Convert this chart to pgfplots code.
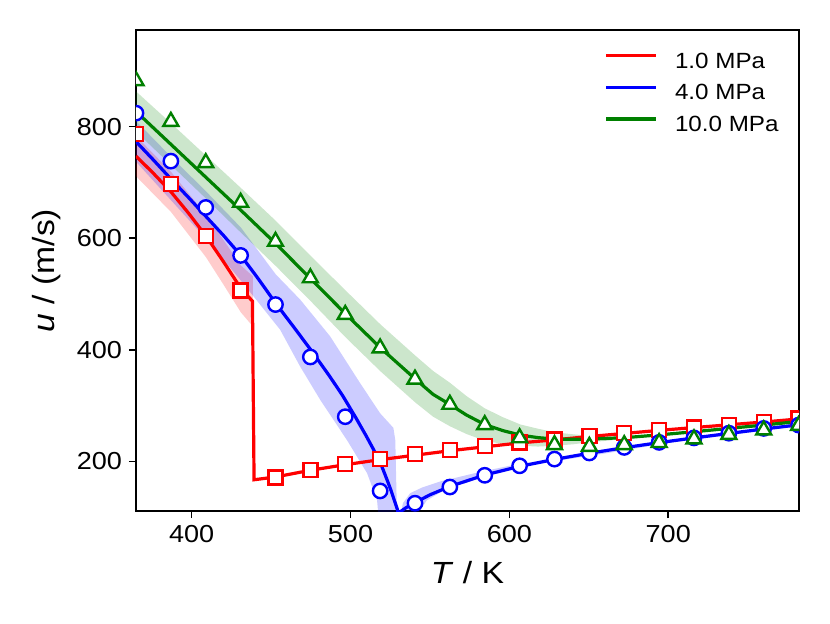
\documentclass[border=0pt]{standalone}
\usepackage{fontspec}
\setmainfont{Liberation Sans}[FakeStretch=1.1]
\usepackage{pgfplots}
\pgfplotsset{compat=1.18}
\definecolor{cR}{rgb}{1,0,0}
\definecolor{cB}{rgb}{0,0,1}
\definecolor{cG}{rgb}{0,0.5,0}
\begin{document}
\begin{tikzpicture}
\begin{axis}[
  name=ax,
  scale only axis, width=331.5pt, height=240.5pt,
  xmin=365, xmax=782.3, ymin=111, ymax=973,
  xtick={400,500,600,700}, ytick={200,400,600,800},
  tick align=outside, major tick length=3.5pt,
  xtick pos=lower, ytick pos=left,
  tick style={black, line width=0.8pt},
  axis line style={line width=0.8pt},
  minor tick num=0,
  /pgf/number format/assume math mode=true,
  tick label style={font=\fontsize{12.3}{14}\selectfont},
  xlabel={\textit{T} / K}, ylabel={\textit{u} / (m/s)},
  label style={font=\fontsize{15.3}{18}\selectfont},
  xlabel style={at={(axis description cs:0.5,-0.1497)}, anchor=base},
  ylabel style={at={(axis description cs:-0.1222,0.5)}, anchor=base},
  clip marker paths=true,
  legend style={at={(axis description cs:1,1)}, anchor=north east, xshift=-10pt, yshift=-11.5pt,
    draw=none, fill=none, inner sep=0pt, font=\fontsize{11}{13}\selectfont,
    row sep=6.3pt, nodes={inner sep=0pt, text height=0.75em, text depth=0.2em},
    /tikz/every odd column/.append style={column sep=8.5pt}},
  legend image code/.code={\draw[#1, line width=1.6pt] (0pt,0.35em) -- (25pt,0.35em);},
  legend cell align=left,
]
% ---- uncertainty bands ----
\addplot[draw=none, fill=cR, fill opacity=0.2, forget plot] coordinates {
 (365,783) (387,719) (409,642) (420,597) (431,551) (438.5,532)
 (438.5,442) (431,467) (420,517) (409,566) (387,647) (365,711)};
\addplot[draw=none, fill=cB, fill opacity=0.2, forget plot] coordinates {
 (365,810) (387,746) (409,684) (431,619) (453,535) (468.3,490) (487.2,424) (506.1,340)
 (518.7,286) (527,260) (528.2,238) (529.3,100)
 (517.7,100) (516.7,131) (510.4,179) (497.8,238) (481,310) (468.3,370) (455.7,436)
 (431,524) (409,599) (387,668) (365,737)};
\addplot[draw=none, fill=cB, fill opacity=0.2, forget plot] coordinates {
 (531.3,100) (533,125) (537.6,143) (545,153) (556.6,164) (580,180) (600,192) (630,206)
 (660,219) (700,238) (782.3,268)
 (782.3,263) (700,233) (660,214) (630,201) (600,186) (580,172) (560,150) (548,130) (541,100)};
\addplot[draw=none, fill=cG, fill opacity=0.2, forget plot] coordinates {
 (365,863) (387,806) (409,748) (431,690) (453,631) (475,568) (497,506) (519,445)
 (541,389) (552,362) (562.5,341) (573,317) (584.5,295) (596,279) (607,266) (618,258.5)
 (628.6,252) (640,248.5) (651,245.5) (662,244) (673,244) (684,246) (694.5,248)
 (694.5,247) (684,244) (673,241) (662,237) (651,234.5) (640,230.5) (628.6,228) (618,226.5)
 (607,228) (596,231) (584.5,237) (573,249) (562.5,263) (552,280) (541,305) (519,361)
 (497,422) (475,487) (453,550) (431,610) (409,671) (387,731) (365,791)};
% ---- model lines ----
\addplot[cR, line width=1.6pt] coordinates {
 (365,747) (376,716) (387,683) (398,645) (409,604) (420,558) (431,510) (438.3,487)
 (439.3,167) (452.8,172) (474.75,184) (496.7,194) (518.65,203) (540.6,211) (562.55,219)
 (584.5,226) (606.45,233) (628.4,238.5) (650.35,244.5) (672.3,250) (694.25,255.5)
 (716.2,260.5) (738.15,265.5) (760.1,270.5) (782.3,276)};
\addlegendentry{1.0 MPa}
\addplot[cB, line width=1.6pt] coordinates {
 (365,773) (376,740) (387,706) (398,673) (409,639) (420,605) (431,569) (442,527)
 (453,483) (465,438) (476,396) (487,352) (495,318) (503,280) (510,245) (517,208)
 (520,189) (523,167) (525.5,148) (527.5,131) (529.5,114) (530.5,100)};
\addlegendentry{4.0 MPa}
\addplot[cB, line width=1.6pt, forget plot] coordinates {
 (530.5,108) (535,117) (540.6,126) (550,140) (562.55,155) (584.5,175.5) (606.45,191)
 (628.4,203.5) (650.35,214.5) (672.3,224.5) (694.25,233.5) (716.2,242) (738.15,250)
 (760.1,258) (782.3,265.5)};
\addplot[cG, line width=1.6pt] coordinates {
 (365,827) (387,768) (409,709) (431,650) (453,590) (475,527) (497,464) (519,403)
 (541,347) (552,320) (562.5,302) (573,283) (584.5,266) (596,255) (607,247) (618,242.5)
 (628.6,240) (640,239.5) (651,240) (673,242.5) (694.5,247.5) (716,253) (738,259)
 (760,265) (782.3,271.5)};
\addlegendentry{10.0 MPa}
% ---- data markers ----
\addplot[only marks, mark=square*, mark size=3.5pt, draw=cR, fill=white, line width=1.2pt, forget plot] coordinates {
 (365,787) (386.95,697) (408.9,604) (430.85,506) (452.8,171) (474.75,185) (496.7,195)
 (518.65,204) (540.6,213) (562.55,220) (584.5,227) (606.45,234) (628.4,239) (650.35,245)
 (672.3,250.5) (694.25,256.5) (716.2,261) (738.15,265.5) (760.1,271) (782.05,277)};
\addplot[only marks, mark=*, mark size=3.6pt, draw=cB, fill=white, line width=1.2pt, forget plot] coordinates {
 (365,824) (386.95,738) (408.9,655) (430.85,569) (452.8,481) (474.75,387) (496.7,280)
 (518.65,147) (540.6,125) (562.55,154) (584.5,175) (606.45,192) (628.4,204) (650.35,215)
 (672.3,225) (694.25,234) (716.2,242) (738.15,250.5) (760.1,259) (782.05,265)};
\addplot[only marks, mark=triangle*, mark size=4.3pt, draw=cG, fill=white, line width=1.2pt, forget plot] coordinates {
 (365,882) (386.95,809) (408.9,735) (430.85,664) (452.8,594) (474.75,528.6) (496.7,463)
 (518.65,403) (540.6,347) (562.55,302) (584.5,265.5) (606.45,242) (628.4,229.6) (650.35,226.6)
 (672.3,229.6) (694.25,233.5) (716.2,240) (738.15,248) (760.1,256) (782.05,264)};
\end{axis}
\path[use as bounding box] ([xshift=-68pt,yshift=-56pt]ax.south west) rectangle ([xshift=15.5pt,yshift=15pt]ax.north east);
\end{tikzpicture}
\end{document}
